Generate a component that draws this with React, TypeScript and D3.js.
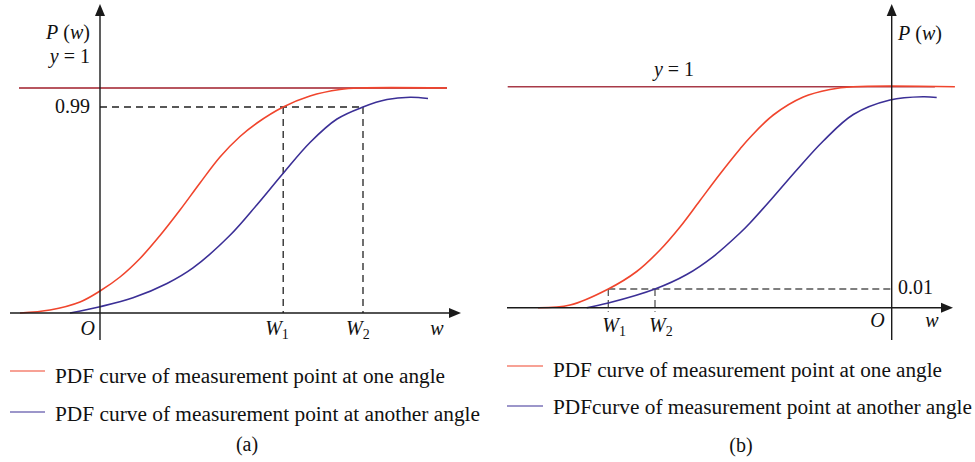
import React from "react";
import * as d3 from "d3";

// Panel (a): cumulative curves over w, with W1/W2 read at P = 0.99
const aRedW = [-2, -1.25, -0.5, 0, 0.5, 1, 1.5, 2, 2.5, 3, 3.5, 3.925, 4.58, 5.25, 6, 6.5, 8.675];
const aRedP = [0, 0.0144, 0.0529, 0.1057, 0.173, 0.262, 0.3725, 0.495, 0.6248, 0.7497, 0.8482, 0.9131, 0.99, 0.9958, 0.9992, 1, 1];
const aBlueW = [-0.75, 0, 0.825, 1.675, 2.325, 3.25, 3.925, 4.575, 5.25, 5.925, 6.575, 7.175, 7.75, 8.2];
const aBlueP = [0, 0.0303, 0.073, 0.1418, 0.2167, 0.3734, 0.5205, 0.6704, 0.8194, 0.9323, 0.99, 0.9939, 0.9951, 0.9945];
const aLevel = 0.99;
const aW1 = 4.58;
const aW2 = 6.575;

// Panel (b): same curves shifted left of the origin, W1/W2 read at P = 0.01
const bRedW = [-8.8425, -8.0425, -7.085, -6.375, -5.7925, -5.2925, -4.7925, -4.2925, -3.7925, -3.5425, -2.96, -2.21, -1.5425, -0.9675, 1.58];
const bRedP = [0, 0.0014, 0.01, 0.0956, 0.2009, 0.3134, 0.4431, 0.5728, 0.6951, 0.7514, 0.8615, 0.9496, 0.9863, 1, 1];
const bBlueW = [-7.625, -7.085, -5.9175, -5.125, -4.46, -3.7925, -3.5425, -2.96, -2.375, -1.71, -0.96, -0.0425, 0.7825, 1.125];
const bBlueP = [0, 0.0025, 0.01, 0.081, 0.169, 0.284, 0.333, 0.4602, 0.5924, 0.7343, 0.864, 0.9349, 0.9511, 0.9472];
const bLevel = 0.01;
const bW1 = -7.085;
const bW2 = -5.9175;

const legendA = ["PDF curve of measurement point at one angle", "PDF curve of measurement point at another angle"];
const legendB = ["PDF curve of measurement point at one angle", "PDFcurve of measurement point at another angle"];

const RED = "#f0452d";
const BLUE = "#3b2f96";
const FONT = '"Liberation Serif", "Times New Roman", Tinos, serif';

const zip = (w: number[], p: number[]) => w.map((v, i) => [v, p[i]] as [number, number]);

function Arrow({ x, y, dir }: { x: number; y: number; dir: "up" | "right" }) {
  const d =
    dir === "up"
      ? `M${x},${y} L${x - 5},${y + 12} L${x + 5},${y + 12} Z`
      : `M${x},${y} L${x - 12},${y - 5} L${x - 12},${y + 5} Z`;
  return <path d={d} fill="#1a1a1a" />;
}

function WLabel({ x, y, sub }: { x: number; y: number; sub: string }) {
  return (
    <text x={x} y={y} fontSize={20} fontStyle="italic">
      W<tspan fontStyle="normal" fontSize={14} dy={4}>{sub}</tspan>
    </text>
  );
}

export default function App() {
  // panel (a) scales: the P axis is stretched near the top so 0.99 is visible
  const xA = d3.scaleLinear().domain([-2.25, 9]).range([10, 460]);
  const yA = d3.scaleLinear().domain([0, 0.99, 1]).range([313, 107, 88]);
  // panel (b) scales: the P axis is stretched near the bottom so 0.01 is visible
  const xB = d3.scaleLinear().domain([-9.6, 1.5]).range([507.7, 951.7]);
  const yB = d3.scaleLinear().domain([0, 0.01, 1]).range([307.7, 289, 86.7]);

  const curve = d3.curveCatmullRom.alpha(0.5);
  const lineA = d3.line<[number, number]>().x((d) => xA(d[0])).y((d) => yA(d[1])).curve(curve);
  const lineB = d3.line<[number, number]>().x((d) => xB(d[0])).y((d) => yB(d[1])).curve(curve);

  const ax0 = xA(0);
  const ay0 = yA(0);
  const bx0 = xB(0);
  const by0 = yB(0);

  return (
    <svg
      width={975}
      height={462}
      viewBox="0 0 975 462"
      style={{ position: "absolute", left: 0, top: 0, background: "#fff", fontFamily: FONT }}
      fill="#111"
    >
      {/* ---------- panel (a) ---------- */}
      <g>
        {/* y = 1 asymptote */}
        <line x1={xA(-2.025)} x2={xA(8.675)} y1={yA(1)} y2={yA(1)} stroke="#a01e2a" strokeWidth={1.6} />
        {/* 0.99 guides */}
        <g stroke="#222" strokeWidth={1.3} strokeDasharray="7,5" fill="none">
          <line x1={ax0} x2={xA(aW2)} y1={yA(aLevel)} y2={yA(aLevel)} />
          <line x1={xA(aW1)} x2={xA(aW1)} y1={yA(aLevel)} y2={ay0} />
          <line x1={xA(aW2)} x2={xA(aW2)} y1={yA(aLevel)} y2={ay0} />
        </g>
        <path d={lineA(zip(aRedW, aRedP)) ?? ""} fill="none" stroke={RED} strokeWidth={1.6} />
        <path d={lineA(zip(aBlueW, aBlueP)) ?? ""} fill="none" stroke={BLUE} strokeWidth={1.6} />
        {/* axes */}
        <line x1={10} x2={452} y1={ay0} y2={ay0} stroke="#1a1a1a" strokeWidth={1.4} />
        <Arrow x={461} y={ay0} dir="right" />
        <line x1={ax0} x2={ax0} y1={340} y2={12} stroke="#1a1a1a" strokeWidth={1.4} />
        <Arrow x={ax0} y={4} dir="up" />
        {/* labels */}
        <text x={90} y={39} fontSize={20} textAnchor="end">
          <tspan fontStyle="italic">P</tspan> (<tspan fontStyle="italic">w</tspan>)
        </text>
        <text x={90} y={63} fontSize={20} textAnchor="end">
          <tspan fontStyle="italic">y</tspan> = 1
        </text>
        <text x={90} y={113} fontSize={20} textAnchor="end">0.99</text>
        <text x={ax0 - 5} y={335} fontSize={20} fontStyle="italic" textAnchor="end">O</text>
        <WLabel x={xA(aW1) - 18} y={335} sub="1" />
        <WLabel x={xA(aW2) - 17} y={335} sub="2" />
        <text x={437} y={335} fontSize={20} fontStyle="italic" textAnchor="middle">w</text>
        {/* legend */}
        <line x1={10} x2={45} y1={371} y2={371} stroke={RED} strokeWidth={1.2} />
        <text x={55} y={383} fontSize={20} textLength={390} lengthAdjust="spacingAndGlyphs">{legendA[0]}</text>
        <line x1={10} x2={45} y1={412} y2={412} stroke={BLUE} strokeWidth={1.2} />
        <text x={55} y={421} fontSize={20} textLength={425} lengthAdjust="spacingAndGlyphs">{legendA[1]}</text>
        <text x={247} y={451} fontSize={20} textAnchor="middle">(a)</text>
      </g>

      {/* ---------- panel (b) ---------- */}
      <g>
        <line x1={xB(-9.6)} x2={xB(1.08)} y1={yB(1)} y2={yB(1)} stroke="#a83a48" strokeWidth={1.6} />
        <g stroke="#555" strokeWidth={1.3} strokeDasharray="7,4" fill="none">
          <line x1={xB(bW1)} x2={bx0} y1={yB(bLevel)} y2={yB(bLevel)} />
          <line x1={xB(bW1)} x2={xB(bW1)} y1={yB(bLevel)} y2={by0 + 4} />
          <line x1={xB(bW2)} x2={xB(bW2)} y1={yB(bLevel)} y2={by0 + 4} />
        </g>
        <path d={lineB(zip(bRedW, bRedP)) ?? ""} fill="none" stroke={RED} strokeWidth={1.6} />
        <path d={lineB(zip(bBlueW, bBlueP)) ?? ""} fill="none" stroke={BLUE} strokeWidth={1.6} />
        <line x1={507} x2={944} y1={by0} y2={by0} stroke="#1a1a1a" strokeWidth={1.4} />
        <Arrow x={953} y={by0} dir="right" />
        <line x1={bx0} x2={bx0} y1={340} y2={12} stroke="#1a1a1a" strokeWidth={1.4} />
        <Arrow x={bx0} y={4} dir="up" />
        <text x={898} y={40} fontSize={20}>
          <tspan fontStyle="italic">P</tspan> (<tspan fontStyle="italic">w</tspan>)
        </text>
        <text x={674} y={76} fontSize={20} textAnchor="middle">
          <tspan fontStyle="italic">y</tspan> = 1
        </text>
        <text x={898} y={294} fontSize={20}>0.01</text>
        <text x={bx0 - 7} y={327} fontSize={20} fontStyle="italic" textAnchor="end">O</text>
        <WLabel x={xB(bW1) - 6} y={332} sub="1" />
        <WLabel x={xB(bW2) - 6} y={332} sub="2" />
        <text x={932} y={327} fontSize={20} fontStyle="italic" textAnchor="middle">w</text>
        <line x1={507} x2={543} y1={366} y2={366} stroke={RED} strokeWidth={1.2} />
        <text x={553} y={377} fontSize={20} textLength={389} lengthAdjust="spacingAndGlyphs">{legendB[0]}</text>
        <line x1={507} x2={543} y1={406} y2={406} stroke={BLUE} strokeWidth={1.2} />
        <text x={553} y={414} fontSize={20} textLength={419} lengthAdjust="spacingAndGlyphs">{legendB[1]}</text>
        <text x={741} y={452} fontSize={20} textAnchor="middle">(b)</text>
      </g>
    </svg>
  );
}
